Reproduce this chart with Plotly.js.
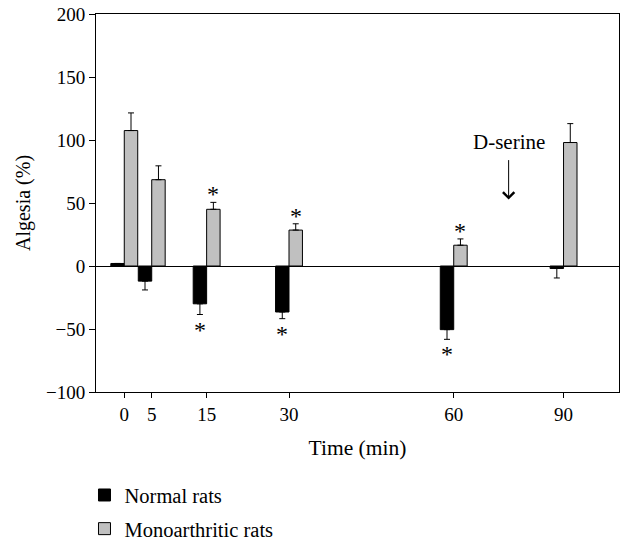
<!DOCTYPE html>
<html>
<head>
<meta charset="utf-8">
<script src="https://cdn.plot.ly/plotly-3.0.1.min.js"></script>
<style>html,body{margin:0;padding:0;background:#fff;}#chart{width:622px;height:541px;}</style>
</head>
<body>
<div id="chart"></div>
<script>
// ---- data ----
var times = ['0', '5', '15', '30', '60', '90'];
var normalRats = [2, -12, -30, -36.5, -50.5, -2];
var normalErr = [0, 7, 8.5, 5.3, 7.7, 7.5];
var monoRats = [107.5, 68.5, 45, 28.5, 16.5, 98];
var monoErr = [14, 11, 5.5, 5, 5, 15];
var normalSig = [false, false, true, true, true, false];
var monoSig = [false, false, true, true, true, false];
var seriesNames = ['Normal rats', 'Monoarthritic rats'];

// axis placement of the time categories (the 90 min point is drawn on a broken scale)
var axisPos = {'0': 0, '5': 5, '15': 15, '30': 30, '60': 60, '90': 80};
var xs = times.map(function (t) { return axisPos[t]; });
var BW = 2.45;
var FONT = 'Liberation Serif, Times New Roman, serif';

function errUp(v, e) { return v.map(function (val, i) { return val >= 0 ? e[i] : 0; }); }
function errDown(v, e) { return v.map(function (val, i) { return val < 0 ? e[i] : 0; }); }

var traceNormal = {
  type: 'bar', name: seriesNames[0], x: xs, y: normalRats,
  width: BW, offset: -BW, legendgroup: 'n',
  marker: {color: '#000000', line: {color: '#000000', width: 1}},
  error_y: {type: 'data', symmetric: false, array: errUp(normalRats, normalErr),
            arrayminus: errDown(normalRats, normalErr), color: '#000', thickness: 1, width: 3}
};
var traceMono = {
  type: 'bar', name: seriesNames[1], x: xs, y: monoRats,
  width: BW, offset: 0, legendgroup: 'm',
  marker: {color: '#c0c0c0', line: {color: '#000000', width: 1}},
  error_y: {type: 'data', symmetric: false, array: errUp(monoRats, monoErr),
            arrayminus: errDown(monoRats, monoErr), color: '#000', thickness: 1, width: 3}
};

var annotations = [];
function addStars(vals, errs, sig, off) {
  vals.forEach(function (v, i) {
    if (!sig[i]) return;
    var up = v >= 0;
    annotations.push({
      x: xs[i] + off, y: up ? v + errs[i] : v - errs[i],
      text: '*', showarrow: false, xanchor: 'center',
      yanchor: up ? 'bottom' : 'top', yshift: up ? -7 : 0,
      font: {family: FONT, size: 24, color: '#000'}
    });
  });
}
addStars(normalRats, normalErr, normalSig, -BW / 2);
addStars(monoRats, monoErr, monoSig, BW / 2);

annotations.push({
  x: 70, y: 98.5, text: 'D-serine', showarrow: false,
  font: {family: FONT, size: 21, color: '#000'}
});
annotations.push({
  x: 70, y: 52.7, ax: 0, ay: -41, text: '', showarrow: true,
  arrowhead: 4, arrowsize: 2.2, arrowwidth: 1, arrowcolor: '#000'
});

var layout = {
  width: 622, height: 541,
  margin: {l: 96, r: 3, t: 14, b: 149, pad: 0, autoexpand: false},
  paper_bgcolor: '#fff', plot_bgcolor: '#fff',
  font: {family: FONT, size: 19, color: '#000'},
  barmode: 'overlay',
  showlegend: true,
  legend: {
    x: -0.022, xanchor: 'left', y: -0.22, yanchor: 'top',
    traceorder: 'grouped', tracegroupgap: 4,
    font: {family: FONT, size: 20.5, color: '#000'},
    bgcolor: 'rgba(0,0,0,0)'
  },
  xaxis: {
    range: [-5.15, 90.1], tickmode: 'array', tickvals: xs, ticktext: times,
    ticks: 'outside', ticklen: 5, tickwidth: 1, tickcolor: '#000',
    showline: true, linecolor: '#000', linewidth: 1, mirror: true,
    showgrid: false, zeroline: false, automargin: false,
    tickfont: {family: FONT, size: 19},
    title: {text: 'Time (min)', font: {family: FONT, size: 21.5}, standoff: 16}
  },
  yaxis: {
    range: [-100, 200], tickmode: 'linear', tick0: 0, dtick: 50,
    ticks: 'outside', ticklen: 6, tickwidth: 1, tickcolor: '#000',
    showline: true, linecolor: '#000', linewidth: 1, mirror: true,
    showgrid: false, zeroline: true, zerolinecolor: '#000', zerolinewidth: 1,
    automargin: false,
    tickfont: {family: FONT, size: 19},
    title: {text: 'Algesia (%)', font: {family: FONT, size: 20}, standoff: 9}
  },
  annotations: annotations
};

Plotly.newPlot('chart', [traceNormal, traceMono], layout, {displayModeBar: false, staticPlot: true});
</script>
</body>
</html>
